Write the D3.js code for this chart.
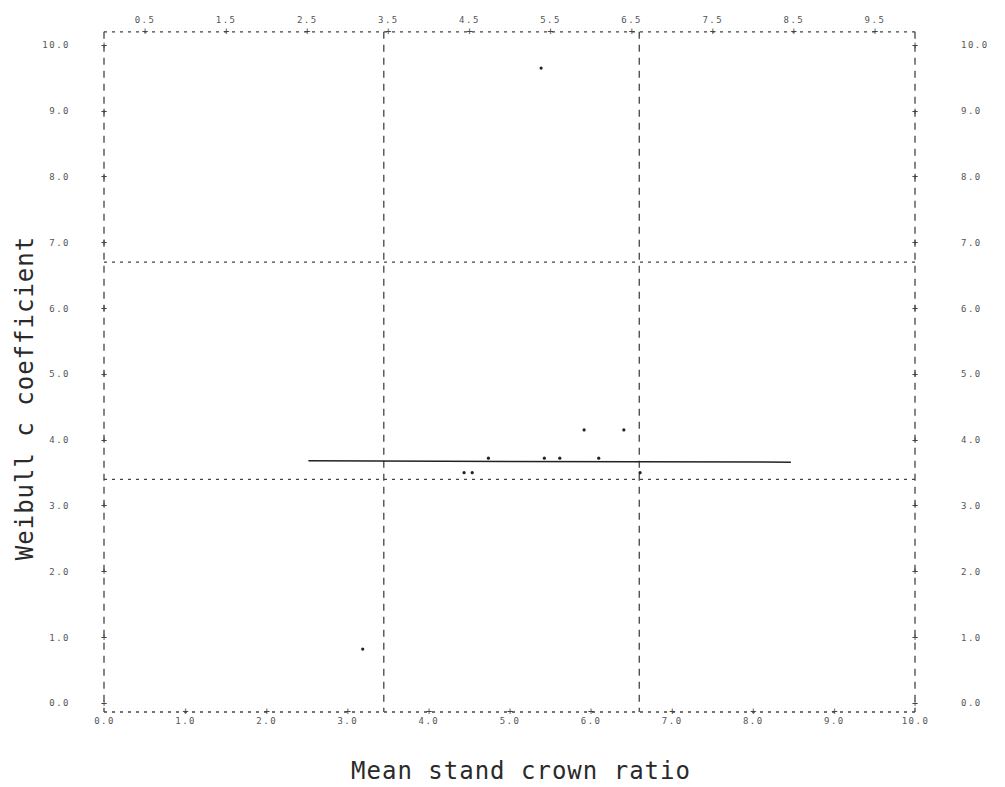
<!DOCTYPE html>
<head>
  <meta charset="utf-8">
  <script src="https://d3js.org/d3.v7.min.js"></script>
  <style>
    body { margin:0; background:#fff; }
    text { font-family: "DejaVu Sans Mono", monospace; fill:#2a2a2a; }
    .tick text { font-size:9px; letter-spacing:1.5px; fill:#555; }
    .tick text.plus { fill:#444; }
    .frame { fill:none; stroke:#444; stroke-width:1.3px; stroke-dasharray:3,5; }
    .vline { fill:none; stroke:#444; stroke-width:1.3px; stroke-dasharray:7,6; }
  </style>
</head>
<body>
  <script>
    // axis ticks
    var xTicks = [0, 1, 2, 3, 4, 5, 6, 7, 8, 9, 10];
    var xTopTicks = [0.5, 1.5, 2.5, 3.5, 4.5, 5.5, 6.5, 7.5, 8.5, 9.5];
    var yTicks = [0, 1, 2, 3, 4, 5, 6, 7, 8, 9, 10];

    // dividing lines inside the plot
    var gridX = [3.45, 6.6];
    var gridY = [3.4, 6.7];

    // observed points
    var ptX = [5.92, 6.41, 4.74, 5.43, 5.62, 6.10, 4.44, 4.54, 6.61, 5.39, 3.19];
    var ptY = [4.15, 4.15, 3.72, 3.72, 3.72, 3.72, 3.50, 3.50, 3.50, 9.65, 0.82];

    // fitted line
    var fitX = [2.52, 8.47];
    var fitY = [3.68, 3.66];

    var W = 1005, H = 787;
    var svg = d3.select("body").append("svg")
      .attr("width", W)
      .attr("height", H);

    var x = d3.scaleLinear().domain([0, 10]).range([104, 915]);
    var y = d3.scaleLinear().domain([0, 10]).range([703, 45]);
    var rowH = (y(0) - y(10)) / 50;

    var frameTop = y(10) - rowH, frameBottom = y(0) + 9;

    // frame
    svg.append("line").attr("class", "frame")
      .attr("x1", x(0)).attr("x2", x(10)).attr("y1", frameTop).attr("y2", frameTop);
    svg.append("line").attr("class", "frame")
      .attr("x1", x(0)).attr("x2", x(10)).attr("y1", frameBottom).attr("y2", frameBottom);
    svg.append("line").attr("class", "vline")
      .attr("x1", x(0)).attr("x2", x(0)).attr("y1", frameTop).attr("y2", frameBottom);
    svg.append("line").attr("class", "vline")
      .attr("x1", x(10)).attr("x2", x(10)).attr("y1", frameTop).attr("y2", frameBottom);

    // inner divisions
    svg.selectAll(".gx").data(gridX).enter().append("line")
      .attr("class", "vline")
      .attr("x1", function(d) { return x(d); })
      .attr("x2", function(d) { return x(d); })
      .attr("y1", frameTop).attr("y2", frameBottom);
    svg.selectAll(".gy").data(gridY).enter().append("line")
      .attr("class", "frame")
      .attr("x1", x(0)).attr("x2", x(10))
      .attr("y1", function(d) { return y(d); })
      .attr("y2", function(d) { return y(d); });

    // axes (printer style: "+" marks on the frame, none at the corners)
    function plusAxis(axis, skipEnds) {
      return function(g) {
        g.call(axis);
        g.select(".domain").remove();
        g.selectAll(".tick line").remove();
        g.selectAll(".tick")
          .filter(function(d) { return !(skipEnds && (d === 0 || d === 10)); })
          .append("text")
          .attr("class", "plus")
          .attr("text-anchor", "middle")
          .attr("dy", "0.32em")
          .attr("x", 0).attr("y", 0)
          .style("font-size", "10px")
          .style("letter-spacing", "0")
          .text("+");
      };
    }

    svg.append("g")
      .attr("transform", "translate(0," + frameBottom + ")")
      .call(plusAxis(d3.axisBottom(x).tickValues(xTicks).tickFormat(d3.format(".1f")).tickSize(0).tickPadding(6), true));

    svg.append("g")
      .attr("transform", "translate(0," + frameTop + ")")
      .call(plusAxis(d3.axisTop(x).tickValues(xTopTicks).tickFormat(d3.format(".1f")).tickSize(0).tickPadding(9), false));

    svg.append("g")
      .attr("transform", "translate(" + x(0) + ",0)")
      .call(plusAxis(d3.axisLeft(y).tickValues(yTicks).tickFormat(d3.format(".1f")).tickSize(0).tickPadding(34), false));

    svg.append("g")
      .attr("transform", "translate(" + x(10) + ",0)")
      .call(plusAxis(d3.axisRight(y).tickValues(yTicks).tickFormat(d3.format(".1f")).tickSize(0).tickPadding(46), false));

    // fitted line
    svg.append("line")
      .attr("x1", x(fitX[0])).attr("y1", y(fitY[0]))
      .attr("x2", x(fitX[1])).attr("y2", y(fitY[1]))
      .attr("stroke", "#222").attr("stroke-width", 1.5);

    // points
    svg.selectAll(".pt").data(ptX).enter().append("circle")
      .attr("class", "pt")
      .attr("cx", function(d) { return x(d); })
      .attr("cy", function(d, i) { return y(ptY[i]); })
      .attr("r", 1.6)
      .attr("fill", "#222");

    // titles
    svg.append("text")
      .attr("x", 521).attr("y", 779)
      .attr("text-anchor", "middle")
      .style("font-size", "24px")
      .style("letter-spacing", "1px")
      .text("Mean stand crown ratio");

    svg.append("text")
      .attr("transform", "translate(33,398) rotate(-90)")
      .attr("text-anchor", "middle")
      .style("font-size", "24px")
      .style("letter-spacing", "1px")
      .text("Weibull c coefficient");
  </script>
</body>
